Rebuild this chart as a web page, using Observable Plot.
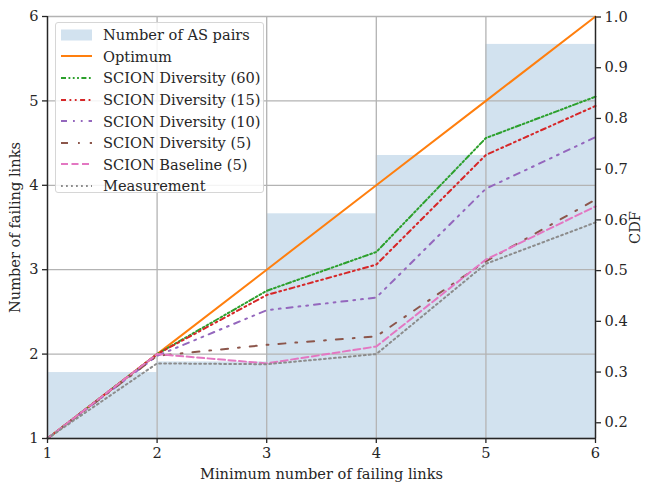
<!DOCTYPE html>
<html>
<head>
<meta charset="utf-8">
<script src="https://cdn.jsdelivr.net/npm/d3@7"></script>
<script src="https://cdn.jsdelivr.net/npm/@observablehq/plot@0.6"></script>
<style>
  body { margin: 0; background: #fff; }
  #wrap { position: relative; width: 645px; height: 487px; font-family: "DejaVu Serif", serif; color: #262626; }
  #wrap > svg { position: absolute; left: 0; top: 0; }
  #legend { position: absolute; left: 55px; top: 22px; width: 209px; height: 171px; border: 1px solid #d6d6d6; border-radius: 3px; background: rgba(255,255,255,0.85); box-sizing: border-box; padding-top: 1px; }
  .row { height: 21.6px; display: flex; align-items: center; font-size: 14.6px; white-space: nowrap; }
  .row svg { margin-left: 5px; margin-right: 11px; flex: none; }
</style>
</head>
<body>
<div id="wrap"></div>
<script>
// ---- data ----
const xValues = [1, 2, 3, 4, 5, 6];
const optimum = [1, 2, 3, 4, 5, 6];
const diversity60 = [1, 2.0, 2.75, 3.21, 4.56, 5.05];
const diversity15 = [1, 2.0, 2.70, 3.06, 4.36, 4.94];
const diversity10 = [1, 1.98, 2.52, 2.67, 3.96, 4.57];
const diversity5 = [1, 1.98, 2.11, 2.21, 3.10, 3.83];
const baseline5 = [1, 2.0, 1.89, 2.09, 3.12, 3.75];
const measurement = [1, 1.89, 1.88, 2.0, 3.07, 3.56];

const binStart = [1, 2, 3, 4, 5];
const binEnd = [2, 3, 4, 5, 6];
const cdfValues = [0.299, 0.320, 0.612, 0.727, 0.946];

const leftTicks = [1, 2, 3, 4, 5, 6];
const xTicks = [1, 2, 3, 4, 5, 6];
const cdfTicks = [0.2, 0.3, 0.4, 0.5, 0.6, 0.7, 0.8, 0.9, 1.0];
const cdfDomain = [0.169, 1.001];

const seriesNames = ["Optimum", "SCION Diversity (60)", "SCION Diversity (15)", "SCION Diversity (10)", "SCION Diversity (5)", "SCION Baseline (5)", "Measurement"];
const seriesValues = [optimum, diversity60, diversity15, diversity10, diversity5, baseline5, measurement];
const seriesColors = ["#ff7f0e", "#2ca02c", "#d62728", "#9467bd", "#8c564b", "#e377c2", "#8c8c8c"];
const seriesDash = [null, "5,2.5,1.8,2.5,1.8,2.5,1.8,2.5", "5,3.5,1.8,3.5,1.8,3.5", "6,6,1.8,6,1.8,6", "7,10,1.8,10", "7,3.5", "1.8,3.2"];
const barLabel = "Number of AS pairs";
const barColor = "#d2e2ef";

// ---- layout ----
const W = 645, H = 487;
const M = {marginTop: 16, marginRight: 50, marginBottom: 49, marginLeft: 47};
const ink = "#262626";
const baseStyle = {fontFamily: "DejaVu Serif", fontSize: "14.6px", color: ink, background: "transparent", overflow: "visible"};

const bars = binStart.map((s, i) => ({start: s, end: binEnd[i], cdf: cdfValues[i]}));

const back = Plot.plot({
  width: W, height: H, ...M,
  style: baseStyle,
  x: {domain: [1, 6], axis: null},
  y: {domain: cdfDomain},
  marks: [
    Plot.rect(bars, {x1: "start", x2: "end", y1: () => cdfDomain[0], y2: "cdf", fill: barColor}),
    Plot.axisY({anchor: "right", ticks: cdfTicks, tickFormat: d3.format(".1f"), tickSize: 5, tickPadding: 4,
      label: "CDF", labelAnchor: "center", labelOffset: 44, labelArrow: "none", stroke: ink, strokeWidth: 1.3})
  ]
});

const rows = [];
seriesNames.forEach((name, k) => {
  xValues.forEach((x, i) => rows.push({series: name, k, x, y: seriesValues[k][i]}));
});

const front = Plot.plot({
  width: W, height: H, ...M,
  style: baseStyle,
  x: {domain: [1, 6]},
  y: {domain: [1, 6]},
  marks: [
    Plot.gridY(leftTicks, {stroke: "#b3b3b3", strokeOpacity: 1, strokeWidth: 1.3}),
    Plot.gridX(xTicks, {stroke: "#b3b3b3", strokeOpacity: 1, strokeWidth: 1.3}),
    ...seriesNames.map((name, k) => Plot.line(rows.filter(r => r.k === k), {
      x: "x", y: "y", stroke: seriesColors[k], strokeWidth: 2, strokeDasharray: seriesDash[k] || undefined
    })),
    Plot.ruleX([1, 6], {stroke: ink, strokeWidth: 1.4}),
    Plot.ruleY([1], {stroke: ink, strokeWidth: 1.4}),
    Plot.axisY({ticks: leftTicks, tickFormat: d3.format("d"), tickSize: 5, tickPadding: 4, label: "Number of failing links", labelAnchor: "center",
      labelOffset: 38, labelArrow: "none", stroke: ink, strokeWidth: 1.3}),
    Plot.axisX({ticks: xTicks, tickFormat: d3.format("d"), tickSize: 5, tickPadding: 4, label: "Minimum number of failing links", labelAnchor: "center",
      labelOffset: 40, labelArrow: "none", stroke: ink, strokeWidth: 1.3})
  ]
});

const wrap = document.getElementById("wrap");
wrap.appendChild(back);
wrap.appendChild(front);

// legend
const legend = document.createElement("div");
legend.id = "legend";
const ns = "http://www.w3.org/2000/svg";
function row(label, drawSwatch) {
  const r = document.createElement("div");
  r.className = "row";
  const s = document.createElementNS(ns, "svg");
  s.setAttribute("width", 31); s.setAttribute("height", 12);
  drawSwatch(s);
  r.appendChild(s);
  const t = document.createElement("span");
  t.textContent = label;
  r.appendChild(t);
  legend.appendChild(r);
}
row(barLabel, s => {
  const rc = document.createElementNS(ns, "rect");
  rc.setAttribute("x", 0); rc.setAttribute("y", 0.5); rc.setAttribute("width", 31); rc.setAttribute("height", 11);
  rc.setAttribute("fill", barColor);
  s.appendChild(rc);
});
seriesNames.forEach((name, k) => row(name, s => {
  const l = document.createElementNS(ns, "line");
  l.setAttribute("x1", 0); l.setAttribute("x2", 31); l.setAttribute("y1", 6); l.setAttribute("y2", 6);
  l.setAttribute("stroke", seriesColors[k]); l.setAttribute("stroke-width", 2);
  if (seriesDash[k]) l.setAttribute("stroke-dasharray", seriesDash[k]);
  s.appendChild(l);
}));
wrap.appendChild(legend);
</script>
</body>
</html>
